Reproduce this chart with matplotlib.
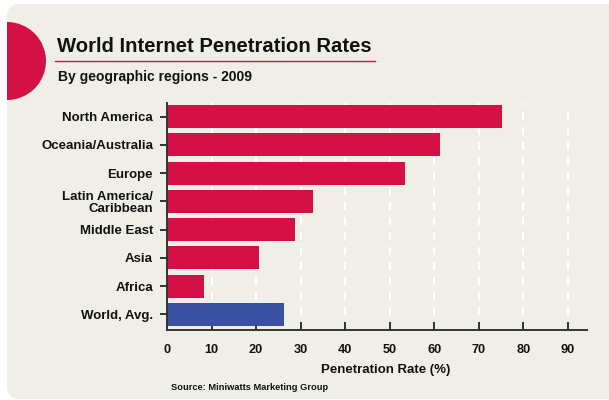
import matplotlib
matplotlib.use("Agg")
import matplotlib.pyplot as plt
from matplotlib.patches import FancyBboxPatch, Circle

# data
regions = ["North America", "Oceania/Australia", "Europe", "Latin America/\nCaribbean",
           "Middle East", "Asia", "Africa", "World, Avg."]
rates = [75.3, 61.2, 53.4, 32.8, 28.8, 20.7, 8.3, 26.3]
bar_colors = ["#d31145"] * 7 + ["#3a50a2"]
xticks = [0, 10, 20, 30, 40, 50, 60, 70, 80, 90]

title = "World Internet Penetration Rates"
subtitle = "By geographic regions - 2009"
xlabel = "Penetration Rate (%)"
source = "Source: Miniwatts Marketing Group"

plt.rcParams['font.family'] = ['Liberation Sans', 'DejaVu Sans']
plt.rcParams['font.weight'] = 'bold'

W, H = 609, 400
fig = plt.figure(figsize=(W / 100, H / 100), dpi=100)
fig.patch.set_facecolor("white")

# background panel in pixel coords
bg = fig.add_axes([0, 0, 1, 1], zorder=-1)
bg.set_xlim(0, W)
bg.set_ylim(H, 0)
bg.axis("off")
panel = FancyBboxPatch((7, 4), 620, 395, boxstyle="round,pad=0,rounding_size=13",
                       facecolor="#f0efe7", edgecolor="none")
bg.add_patch(panel)
dot = Circle((7, 61), 39, facecolor="#d31145", edgecolor="none")
bg.add_patch(dot)
dot.set_clip_path(panel)

bg.text(57, 51.5, title, fontsize=14.6, fontweight="bold", color="#111111", va="baseline")
bg.plot([55, 375], [61, 61], color="#d31145", lw=1.0)
bg.text(58, 81, subtitle, fontsize=10, fontweight="bold", color="#111111", va="baseline")
bg.text(386, 372.5, xlabel, fontsize=9.5, fontweight="bold", color="#111111",
        ha="center", va="baseline")
bg.text(171, 389.5, source, fontsize=6.7, fontweight="bold", color="#111111", va="baseline")

# main chart
ax = fig.add_axes([167 / W, 70 / H, 420 / W, 227 / H])
ax.set_facecolor("none")
pos = list(range(len(regions)))
ax.barh(pos, rates, height=0.81, color=bar_colors, zorder=3)
ax.set_xlim(0, 94.3)
ax.set_ylim(7.55, -0.48)

ax.set_xticks(xticks)
ax.set_xticklabels([str(t) for t in xticks])
ax.set_yticks(pos)
ax.set_yticklabels(regions, linespacing=1.05)

for t in xticks[1:]:
    ax.axvline(t, color="white", lw=1.5, linestyle=(0, (3.8, 3.4)), zorder=1)

for s in ["top", "right"]:
    ax.spines[s].set_visible(False)
for s in ["left", "bottom"]:
    ax.spines[s].set_color("#333333")
    ax.spines[s].set_linewidth(1.4)
    ax.spines[s].set_zorder(4)

ax.tick_params(axis="x", direction="in", length=6, width=1.3, color="#222222",
               pad=10, labelsize=9.2, labelcolor="#111111")
ax.tick_params(axis="y", direction="out", length=5, width=1.3, color="#222222",
               pad=5, labelsize=9.5, labelcolor="#111111")
for lab in ax.get_xticklabels() + ax.get_yticklabels():
    lab.set_fontweight("bold")

fig.savefig("out.png", dpi=100, facecolor=fig.get_facecolor())
